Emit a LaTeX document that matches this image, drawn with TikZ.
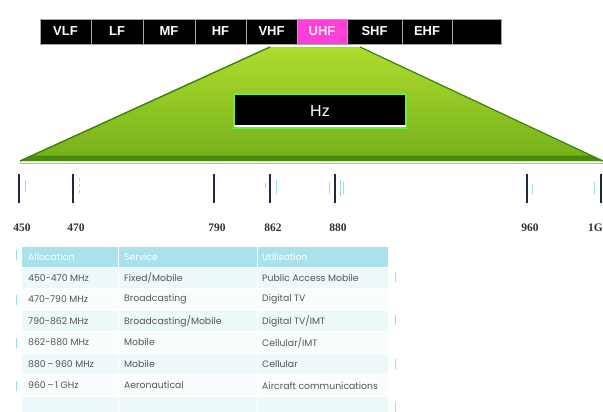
\documentclass[tikz,border=0pt]{standalone}
\usepackage{fontspec}
\setmainfont{Liberation Serif}
\newfontfamily\barfont{Liberation Sans}
\newfontfamily\tabfont{Poppins}
\definecolor{magenta1}{HTML}{FF40D8}
\definecolor{uhftext}{HTML}{FFE0F6}
\definecolor{gtop}{HTML}{AEDC2E}
\definecolor{gbot}{HTML}{74B01A}
\definecolor{gdark}{HTML}{3E800C}
\definecolor{glow}{HTML}{6CEB3C}
\definecolor{tickc}{HTML}{1E2A3C}
\definecolor{faint}{HTML}{9ADCEB}
\definecolor{headc}{HTML}{A9E2EC}
\definecolor{rowa}{HTML}{EDF8FA}
\definecolor{rowb}{HTML}{FAFDFE}
\definecolor{txt}{HTML}{555555}
\tikzset{
  bandcell/.style={draw=gray!70, line width=0.6pt, fill=black, minimum height=25pt, inner sep=0pt, text=white, font=\barfont\bfseries\fontsize{13}{13}\selectfont},
  ticklabel/.style={font=\fontsize{11.5}{11.5}\selectfont\bfseries, text=black!80, inner sep=0pt},
  tickline/.style={draw=tickc, line width=1.1pt},
  faintline/.style={draw=faint, line width=1pt},
  tabtext/.style={font=\tabfont\fontsize{9.3}{9.3}\selectfont, text=txt, anchor=west, inner sep=0pt},
  headtext/.style={font=\tabfont\fontsize{9.3}{9.3}\selectfont, text=white, anchor=west, inner sep=0pt},
}
\begin{document}
\begin{tikzpicture}[x=1pt,y=-1pt]
\useasboundingbox (0,0) rectangle (603,412);
\fill[white] (0,0) rectangle (603,412);

% green trapezoid
\shade[top color=gtop, bottom color=gbot] (20,161) -- (270,47) -- (360,47) -- (603,161) -- cycle;
\fill[gdark!80!gbot] (32,155.5) -- (591,155.5) -- (603,161) -- (20,161) -- cycle;
\draw[gdark, line width=1.4pt] (20,161) -- (270,47);
\draw[gdark, line width=1.2pt] (360,47) -- (603,161);
\draw[violet!35, line width=1pt] (20,163) -- (603,163);

% band bar
\foreach \a/\b/\t/\n in {40/91/VLF/vlf, 91/143/LF/lf, 143/195/MF/mf, 195/246/HF/hf, 246/297/VHF/vhf, 347/402/SHF/shf, 402/452/EHF/ehf, 452/501/{}/blank}{
  \node[bandcell, minimum width={\b-\a}] (\n) at ({(\a+\b)/2},31.5) {\t};
}
\node[bandcell, fill=magenta1, text=uhftext, minimum width=50] (uhf) at (322,31.5) {UHF};

% Hz box
\node[fill=black, draw=glow, line width=2pt, minimum width=172, minimum height=33, inner sep=0pt, text=white, font=\barfont\fontsize{16}{16}\selectfont] (hz) at (320,111) {Hz};
\draw[white, line width=2pt] ([xshift=1pt,yshift=2.5pt]hz.south west) -- ([xshift=-1pt,yshift=2.5pt]hz.south east);

% ticks
\foreach \x/\l/\n in {19/450/t450, 73/470/t470, 214/790/t790, 270/862/t862, 335/880/t880, 527/960/t960}{
  \coordinate (\n top) at (\x,174);
  \coordinate (\n bot) at (\x,203);
  \draw[tickline] (\n top) -- (\n bot);
  \node[ticklabel] (\n lab) at (\x+3,228) {\l};
}
\coordinate (t1g top) at (601,174);
\coordinate (t1g bot) at (601,203);
\draw[tickline] (t1g top) -- (t1g bot);
\node[ticklabel, anchor=east] (t1glab) at (603,228) {1G};
% faint marks
\draw[faintline] (25,180) -- (25,192);
\draw[faintline, dashed] (79,178) -- (79,194);
\draw[faintline] (265,183) -- (265,188);
\draw[faintline] (276,180) -- (276,194);
\draw[faintline] (329,182) -- (329,194);
\draw[faintline] (340,180) -- (340,196);
\draw[faintline] (343,182) -- (343,194);
\draw[faintline] (532,184) -- (532,194);
\draw[faintline] (594,182) -- (594,194);

% table
\fill[headc] (22,247) rectangle (388,267);
\foreach \i/\c in {0/rowa,1/rowb,2/rowa,3/rowb,4/rowa,5/rowb,6/rowa}{
  \fill[\c] (22,{267+21.5*\i}) rectangle (388,{267+21.5*(\i+1)});
}
\foreach \x in {118,257}{
  \draw[white, line width=1pt] (\x,247) -- (\x,412);
}
\foreach \i in {0,...,6}{
  \draw[white, line width=0.8pt] (22,{267+21.5*\i}) -- (388,{267+21.5*\i});
}
\node[headtext] (h1) at (28,257) {Allocation};
\node[headtext] (h2) at (124,257) {Service};
\node[headtext] (h3) at (262,257) {Utilisation};
\foreach \i/\a/\b/\c in {
  0/450-470 MHz/Fixed\slash Mobile/Public Access Mobile,
  1/470-790 MHz/Broadcasting/Digital TV,
  2/790-862 MHz/Broadcasting\slash Mobile/Digital TV\slash IMT,
  3/862-880 MHz/Mobile/Cellular\slash IMT,
  4/880\,–\,960 MHz/Mobile/Cellular,
  5/960\,–\,1 GHz/Aeronautical/Aircraft communications}{
  \node[tabtext] (a\i) at (28,{278+21.5*\i}) {\a};
  \node[tabtext] (b\i) at (124,{278+21.5*\i}) {\b};
  \node[tabtext] (c\i) at (262,{278+21.5*\i}) {\c};
}
% faint side marks
\foreach \y in {250,295,338,381}{ \draw[faintline] (16,\y) -- (16,\y+10); }
\foreach \y in {272,315,359,402}{ \draw[faintline] (395,\y) -- (395,\y+10); }
\end{tikzpicture}
\end{document}
